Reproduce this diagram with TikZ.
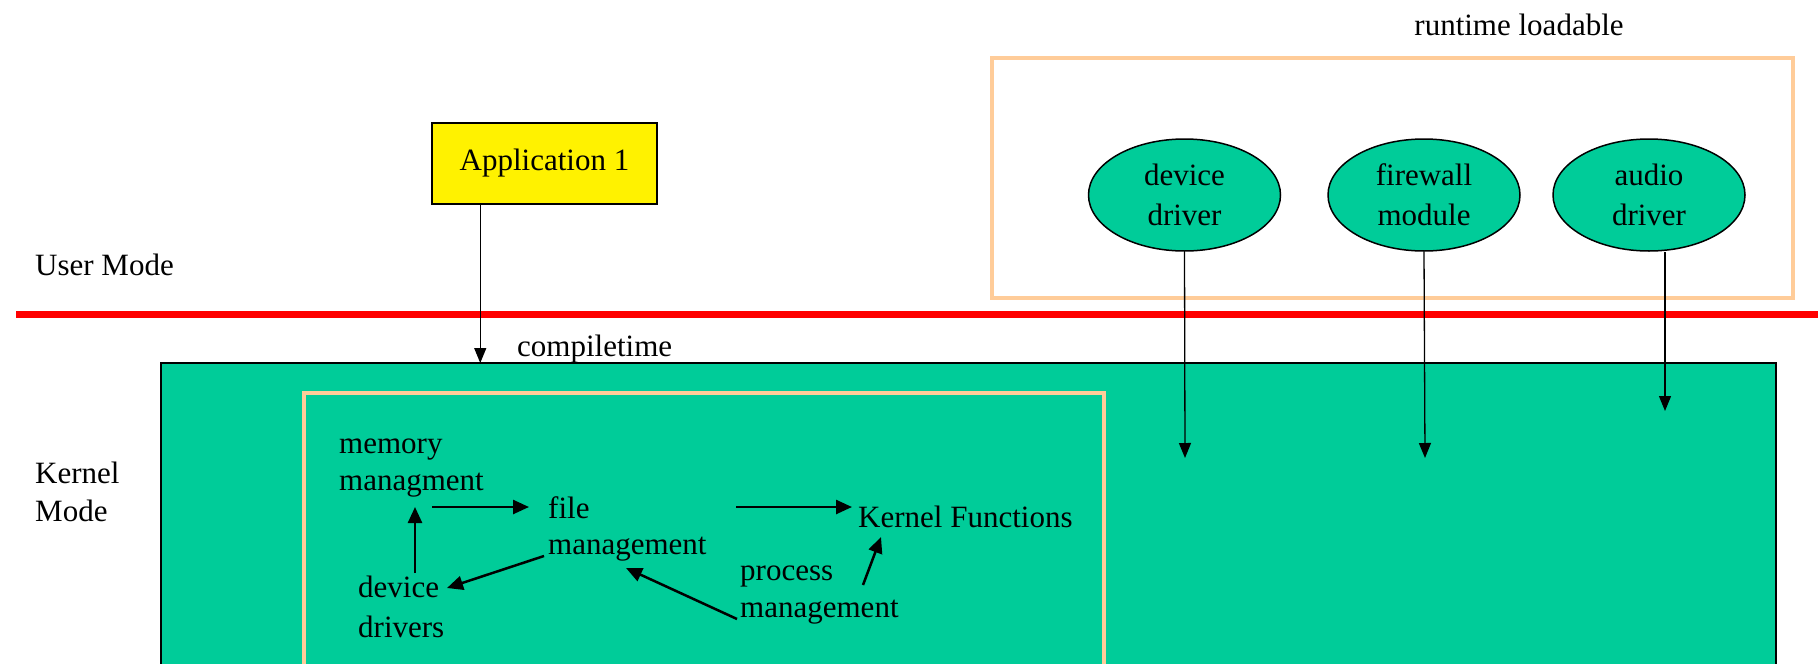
\documentclass[tikz,border=0pt]{standalone}
\usepackage{fontspec}
\setmainfont{Liberation Serif}
\usetikzlibrary{arrows.meta,shapes.geometric,calc}
\definecolor{kgreen}{HTML}{00CC99}
\definecolor{peach}{HTML}{FFCC99}
\begin{document}
\begin{tikzpicture}[x=1pt,y=-1pt,
  every node/.style={font=\fontsize{31}{36.6}\selectfont},
  frame/.style={draw=peach,line width=4pt,inner sep=0pt,outer sep=0pt},
  module/.style={ellipse,draw,fill=kgreen,line width=1.5pt,minimum width=192pt,
    minimum height=112pt,align=center,inner sep=0pt},
  link/.style={-{Triangle[length=15pt,width=12pt]},line width=1.3pt},
  flow/.style={-{Triangle[length=16pt,width=14pt]},line width=2.5pt},
  tag/.style={inner sep=0pt,anchor=west,align=left}]
\clip (0,0) rectangle (1818,664);
\fill[white] (0,0) rectangle (1818,664);

% kernel space and the compiled-in part
\node[draw,fill=kgreen,line width=2pt,minimum width=1615pt,minimum height=340pt,
  inner sep=0pt,outer sep=0pt] (kernel) at (968.5,533) {};
\node[frame,minimum width=800pt,minimum height=320pt] (core) at (704,553) {};

% loadable modules
\node[frame,minimum width=801pt,minimum height=240pt] (rt) at (1392.5,178) {};
\node (rtlabel) at (1519,25) {runtime loadable};
\node[module] (devdrv) at (1184.5,195) {device\\[3pt]driver};
\node[module] (fw) at (1424,195) {firewall\\[3pt]module};
\node[module] (audio) at (1649,195) {audio\\[3pt]driver};

% user/kernel boundary
\draw[red,line width=7pt] (16,314.5) -- (1818,314.5);
\node[tag] (user) at (35,265) {User Mode};
\node[tag] (kmode) at (35,492) {Kernel\\[1.5pt]Mode};
\node[tag] (ctime) at (517,349) {compiletime};

% application
\node[draw,fill=yellow,line width=1.5pt,minimum width=225pt,minimum height=81pt,
  inner sep=0pt] (app) at (544.5,163.5) {Application 1};
\draw[link] ([xshift=49pt]app.south west) -- ([xshift=49pt]app.south west |- kernel.north);

% module insertion points
\coordinate (devin) at (1185,458);
\coordinate (fwin) at (1425,458);
\coordinate (audin) at (1665,411);
\draw[link] (devdrv.south) -- (devin);
\draw[link] (fw.south) -- (fwin);
\draw[link] ([xshift=16pt]audio.south) -- (audin);

% kernel subsystems
\node[tag] (mem) at (339,468) {memory\\managment};
\node[tag] (file) at (548,529) {file\\management};
\node[tag] (dd) at (358,607) {device\\[3pt]drivers};
\node[tag] (proc) at (740,595) {process\\management};
\node[tag] (kf) at (858,517) {Kernel Functions};

\draw[flow] ($(mem.west)+(93,39)$) -- ($(file.west)+(-19,-22)$);
\draw[flow] ($(file.west)+(188,-22)$) -- ($(kf.west)+(-6,-10)$);
\draw[flow] ($(dd.west)+(57,-34)$) -- ($(mem.west)+(76,39)$);
\draw[flow] ($(file.west)+(-4,27)$) -- ($(dd.west)+(89,-19)$);
\draw[flow] ($(proc.west)+(-3,24)$) -- ($(file.west)+(78,39)$);
\draw[flow] ($(proc.west)+(123,-10)$) -- ($(kf.west)+(23,20)$);
\end{tikzpicture}
\end{document}
